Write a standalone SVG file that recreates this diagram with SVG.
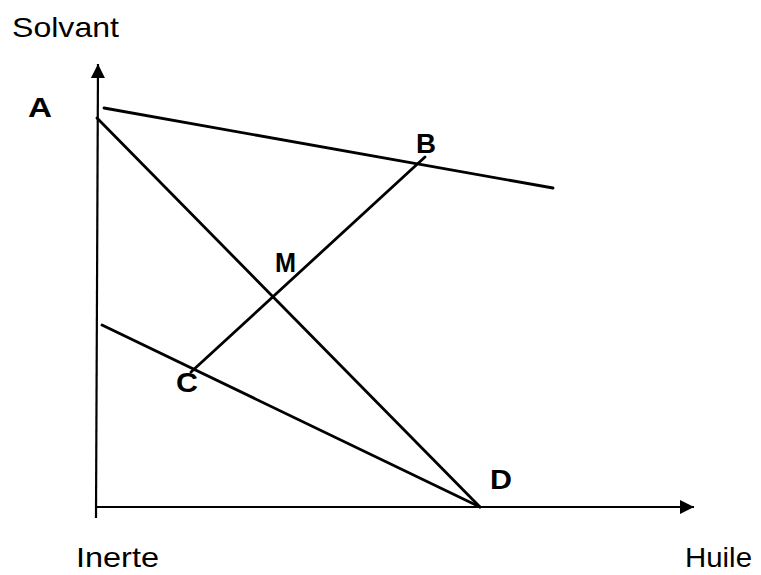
<svg xmlns="http://www.w3.org/2000/svg" width="761" height="575" viewBox="0 0 761 575">
<style>
.ax{stroke:#000;stroke-width:2.2;fill:none}
.ln{stroke:#000;stroke-width:2.8;fill:none;stroke-linecap:round}
.lbl{font-family:"Liberation Sans",Arial,sans-serif;font-size:28px;fill:#000}
.pt{font-family:"Liberation Sans",Arial,sans-serif;font-size:28px;font-weight:bold;fill:#000}
</style>
<defs>
<marker id="arr" viewBox="0 0 10 10" refX="10" refY="5" markerWidth="14" markerHeight="14" markerUnits="userSpaceOnUse" orient="auto">
<path d="M0,0 L10,5 L0,10 Z" fill="#000"/>
</marker>
</defs>
<g id="connectors">
<line class="ax" x1="96" y1="518" x2="98" y2="64" marker-end="url(#arr)"/>
<line class="ax" x1="96" y1="507" x2="694" y2="507" marker-end="url(#arr)"/>
<line class="ln" x1="104" y1="108" x2="553" y2="188"/>
<line class="ln" x1="97" y1="118" x2="480" y2="507"/>
<line class="ln" x1="102" y1="325" x2="480" y2="507"/>
<line class="ln" x1="425" y1="157" x2="191" y2="372"/>
</g>
<g id="axis-solvant"><text class="lbl" x="12" y="37" font-size="30" textLength="107" lengthAdjust="spacingAndGlyphs">Solvant</text></g>
<g id="axis-inerte"><text class="lbl" x="76" y="567" textLength="83" lengthAdjust="spacingAndGlyphs">Inerte</text></g>
<g id="axis-huile"><text class="lbl" x="685" y="567" textLength="67" lengthAdjust="spacingAndGlyphs">Huile</text></g>
<g id="node-A"><text class="pt" x="28" y="117" textLength="24" lengthAdjust="spacingAndGlyphs">A</text></g>
<g id="node-B"><text class="pt" x="416" y="153" textLength="20" lengthAdjust="spacingAndGlyphs">B</text></g>
<g id="node-M"><text class="pt" x="275" y="272" textLength="21" lengthAdjust="spacingAndGlyphs">M</text></g>
<g id="node-C"><text class="pt" x="176" y="392" textLength="22" lengthAdjust="spacingAndGlyphs">C</text></g>
<g id="node-D"><text class="pt" x="490" y="489" textLength="22" lengthAdjust="spacingAndGlyphs">D</text></g>
</svg>
